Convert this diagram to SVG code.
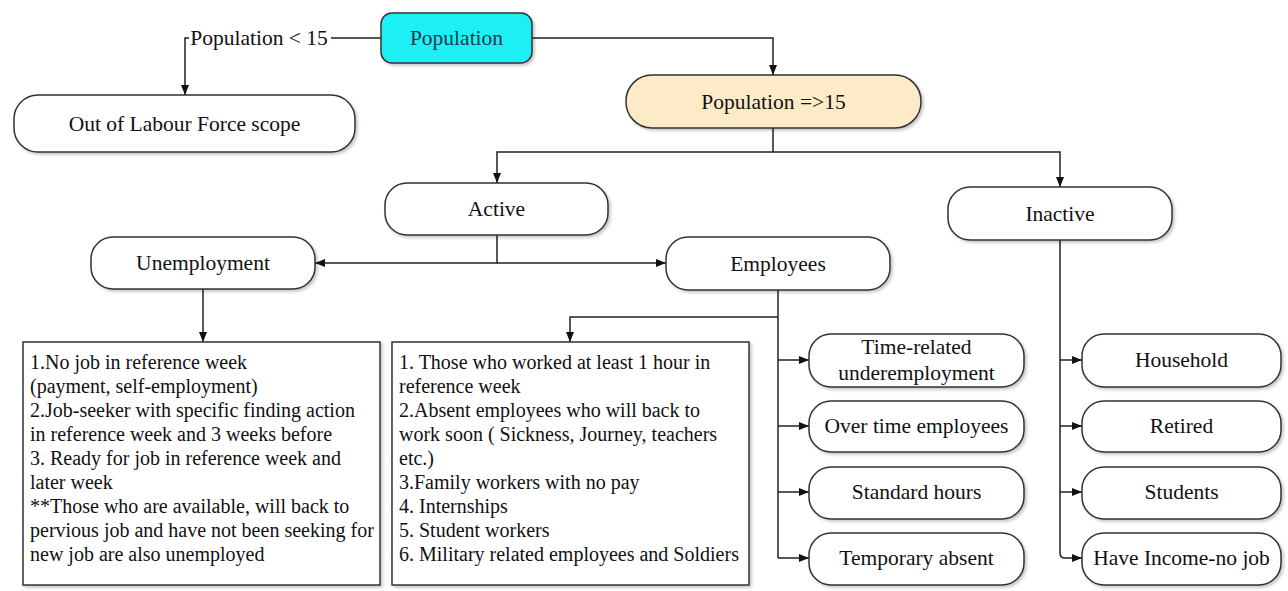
<svg xmlns="http://www.w3.org/2000/svg" width="1288" height="591" viewBox="0 0 1288 591">
<style>
.n{fill:#fff;stroke:#333;stroke-width:1.5}
.t{font-family:"Liberation Serif","Times New Roman",serif;font-size:21.5px;fill:#111;text-anchor:middle}
.b{font-family:"Liberation Serif","Times New Roman",serif;font-size:20px;fill:#111}
.c{fill:none;stroke:#222;stroke-width:1.5}
</style>
<defs>
<marker id="arr" viewBox="0 0 10 10" refX="10" refY="5" markerWidth="10" markerHeight="10" markerUnits="userSpaceOnUse" orient="auto"><path d="M0,1 L10,5 L0,9 z" fill="#111"/></marker>
<filter id="sh" x="-10%" y="-20%" width="120%" height="150%"><feDropShadow dx="2" dy="2" stdDeviation="1.5" flood-color="#000" flood-opacity="0.22"/></filter>
</defs>
<rect width="1288" height="591" fill="#fff"/>
<g id="connectors">
<path class="c" d="M381,38 H185 V95" marker-end="url(#arr)"/>
<path class="c" d="M532,38 H773 V75" marker-end="url(#arr)"/>
<path class="c" d="M773,128 V152 H497 V183" marker-end="url(#arr)"/>
<path class="c" d="M773,152 H1060 V187" marker-end="url(#arr)"/>
<path class="c" d="M497,235 V263 H315" marker-end="url(#arr)"/>
<path class="c" d="M497,263 H666" marker-end="url(#arr)"/>
<path class="c" d="M203,289 V342" marker-end="url(#arr)"/>
<path class="c" d="M778,290 V558"/>
<path class="c" d="M778,317 H570 V342" marker-end="url(#arr)"/>
<path class="c" d="M778,360 H809" marker-end="url(#arr)"/>
<path class="c" d="M778,426 H809" marker-end="url(#arr)"/>
<path class="c" d="M778,492 H809" marker-end="url(#arr)"/>
<path class="c" d="M778,558 H809" marker-end="url(#arr)"/>
<path class="c" d="M1060,240 V553 Q1060,558 1065,558 H1082" marker-end="url(#arr)"/>
<path class="c" d="M1060,360 H1082" marker-end="url(#arr)"/>
<path class="c" d="M1060,426 H1082" marker-end="url(#arr)"/>
<path class="c" d="M1060,492 H1082" marker-end="url(#arr)"/>
<rect x="189" y="26" width="142" height="24" fill="#fff"/>
<text class="t" x="259" y="45">Population &lt; 15</text>
</g>
<g id="population"><rect x="381" y="13" width="151" height="50" rx="11" fill="#1ef0f4" stroke="#333" stroke-width="1.5" filter="url(#sh)"/><text class="t" x="456.5" y="45" style="fill:#1b3a4a">Population</text></g>
<g id="out-of-scope"><rect class="n" x="14" y="95" width="341" height="57" rx="24" filter="url(#sh)"/><text class="t" x="184.5" y="131">Out of Labour Force scope</text></g>
<g id="population-15"><rect x="626" y="75" width="295" height="53" rx="26" fill="#fcebc6" stroke="#333" stroke-width="1.5" filter="url(#sh)"/><text class="t" x="773.5" y="109">Population =&gt;15</text></g>
<g id="active"><rect class="n" x="385" y="183" width="223" height="52" rx="22" filter="url(#sh)"/><text class="t" x="496.5" y="216">Active</text></g>
<g id="inactive"><rect class="n" x="948" y="187" width="224" height="53" rx="22" filter="url(#sh)"/><text class="t" x="1060" y="221">Inactive</text></g>
<g id="unemployment"><rect class="n" x="91" y="237" width="224" height="52" rx="22" filter="url(#sh)"/><text class="t" x="203" y="270">Unemployment</text></g>
<g id="employees"><rect class="n" x="666" y="237" width="224" height="53" rx="22" filter="url(#sh)"/><text class="t" x="778" y="271">Employees</text></g>
<g id="unemployment-criteria"><rect class="n" x="23" y="342" width="357" height="243" filter="url(#sh)"/>
<text class="b" x="30" y="369">1.No job in reference week</text>
<text class="b" x="30" y="393">(payment, self-employment)</text>
<text class="b" x="30" y="417">2.Job-seeker with specific finding action</text>
<text class="b" x="30" y="441">in reference week and 3 weeks before</text>
<text class="b" x="30" y="465">3. Ready for job in reference week and</text>
<text class="b" x="30" y="489">later week</text>
<text class="b" x="30" y="513">**Those who are available, will back to</text>
<text class="b" x="30" y="537">pervious job and have not been seeking for</text>
<text class="b" x="30" y="561">new job are also unemployed</text>
</g>
<g id="employee-criteria"><rect class="n" x="392" y="342" width="357" height="243" filter="url(#sh)"/>
<text class="b" x="399" y="369">1. Those who worked at least 1 hour in</text>
<text class="b" x="399" y="393">reference week</text>
<text class="b" x="399" y="417">2.Absent employees who will back to</text>
<text class="b" x="399" y="441">work soon ( Sickness, Journey, teachers</text>
<text class="b" x="399" y="465">etc.)</text>
<text class="b" x="399" y="489">3.Family workers with no pay</text>
<text class="b" x="399" y="513">4. Internships</text>
<text class="b" x="399" y="537">5. Student workers</text>
<text class="b" x="399" y="561">6. Military related employees and Soldiers</text>
</g>
<g id="time-related"><rect class="n" x="809" y="334" width="215" height="53" rx="22" filter="url(#sh)"/><text class="t" x="916.5" y="354">Time-related</text><text class="t" x="916.5" y="380">underemployment</text></g>
<g id="over-time"><rect class="n" x="809" y="401" width="215" height="51" rx="22" filter="url(#sh)"/><text class="t" x="916.5" y="433">Over time employees</text></g>
<g id="standard-hours"><rect class="n" x="809" y="467" width="215" height="52" rx="22" filter="url(#sh)"/><text class="t" x="916.5" y="499">Standard hours</text></g>
<g id="temporary-absent"><rect class="n" x="809" y="533" width="215" height="52" rx="22" filter="url(#sh)"/><text class="t" x="916.5" y="565">Temporary absent</text></g>
<g id="household"><rect class="n" x="1082" y="334" width="199" height="53" rx="22" filter="url(#sh)"/><text class="t" x="1181.5" y="367">Household</text></g>
<g id="retired"><rect class="n" x="1082" y="401" width="199" height="51" rx="22" filter="url(#sh)"/><text class="t" x="1181.5" y="433">Retired</text></g>
<g id="students"><rect class="n" x="1082" y="467" width="199" height="52" rx="22" filter="url(#sh)"/><text class="t" x="1181.5" y="499">Students</text></g>
<g id="have-income"><rect class="n" x="1082" y="533" width="199" height="52" rx="22" filter="url(#sh)"/><text class="t" x="1181.5" y="565">Have Income-no job</text></g>
</svg>
